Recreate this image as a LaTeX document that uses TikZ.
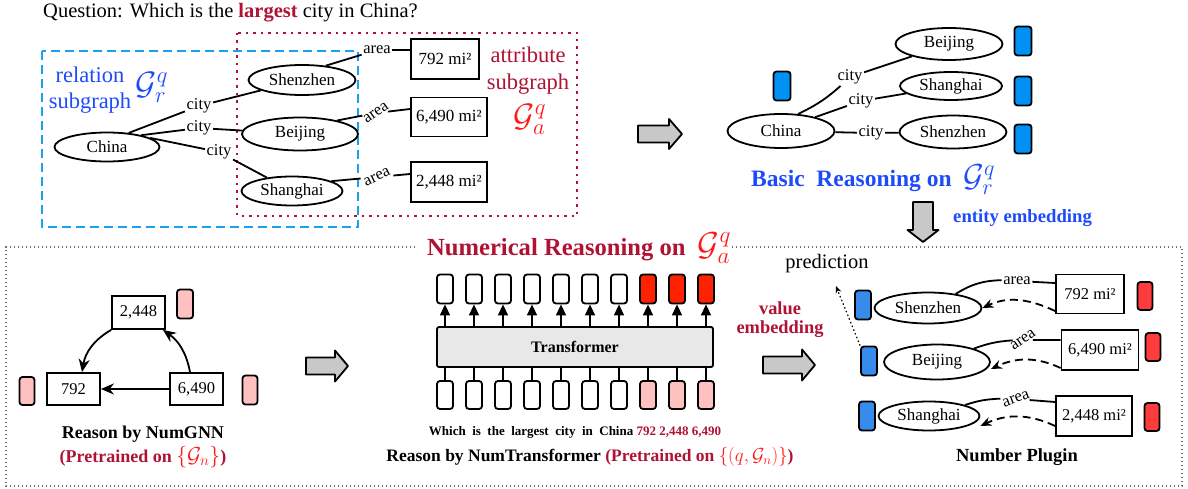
\RequirePackage{fix-cm}
\documentclass[tikz,border=0pt]{standalone}
\usepackage{fontspec}
\usepackage{graphicx}
\setmainfont{Liberation Serif}
\usetikzlibrary{arrows.meta,shapes.geometric}
\definecolor{dred}{RGB}{176,18,52}
\definecolor{mred}{RGB}{255,25,25}
\definecolor{tblue}{RGB}{30,75,250}
\definecolor{dashblue}{RGB}{25,160,240}
\definecolor{eblue}{RGB}{0,145,245}
\definecolor{pblue}{RGB}{55,140,235}
\definecolor{plred}{RGB}{255,60,60}
\definecolor{tred}{RGB}{255,34,0}
\definecolor{pink}{RGB}{255,192,192}
\definecolor{arrgray}{RGB}{200,200,200}
\definecolor{tgray}{RGB}{232,232,232}
\definecolor{framegray}{RGB}{110,110,110}
\newcommand\fsz[2]{\fontsize{#1}{#2}\selectfont}
\newcommand\garrowR[6]{\draw[garrow] ({#1-#3/2},{#2-#4/2}) -- ({#1+#3/2-#6},{#2-#4/2}) -- ({#1+#3/2-#6},{#2-#5/2}) -- ({#1+#3/2},#2) -- ({#1+#3/2-#6},{#2+#5/2}) -- ({#1+#3/2-#6},{#2+#4/2}) -- ({#1-#3/2},{#2+#4/2}) -- cycle;}
\newcommand\garrowD[6]{\draw[garrow] ({#1-#4/2},{#2+#3/2}) -- ({#1-#4/2},{#2-#3/2+#6}) -- ({#1-#5/2},{#2-#3/2+#6}) -- (#1,{#2-#3/2}) -- ({#1+#5/2},{#2-#3/2+#6}) -- ({#1+#4/2},{#2-#3/2+#6}) -- ({#1+#4/2},{#2+#3/2}) -- cycle;}
\begin{document}
\begin{tikzpicture}[x=1pt,y=1pt,
  ell/.style={ellipse, draw, line width=1.8pt, inner sep=0pt, font=\fsz{17pt}{20pt}},
  vbox/.style={rectangle, draw, line width=1.8pt, inner sep=0pt, font=\fsz{17pt}{20pt}},
  lbl/.style={inner sep=1.5pt, font=\fsz{16.5pt}{18pt}},
  edge/.style={line width=1.8pt},
  tok/.style={rectangle, draw, line width=1.8pt, rounded corners=3pt, minimum width=16pt, minimum height=29pt, inner sep=0pt},
  tokS/.style={rectangle, draw, line width=1.8pt, rounded corners=3pt, minimum width=15pt, minimum height=28pt, inner sep=0pt},
  garrow/.style={draw, line width=1.8pt, fill=arrgray, line join=round},
  garr/.style={line width=1.8pt, -{Stealth[length=13pt,width=11pt]}},
  tarr/.style={line width=1.5pt, -{Triangle[length=11pt,width=10pt]}},
  dasharr/.style={line width=1.8pt, dash pattern=on 8pt off 5pt, -{Stealth[length=11pt,width=9pt]}},
  bluedash/.style={draw=dashblue, line width=2.2pt, dash pattern=on 9pt off 5pt},
  reddot/.style={draw=dred, line width=2.4pt, dash pattern=on 2.5pt off 5pt},
  frame/.style={draw=framegray, line width=1.1pt, dash pattern=on 1.4pt off 2.6pt}
]
\useasboundingbox (0,0) rectangle (1188,488);

% ---------- top left ----------
\node[anchor=west, font=\fsz{20.5pt}{24pt}, inner sep=0pt] (question) at (43,475) {Question: Which is the {\color{dred}\bfseries largest} city in China?};
\draw[bluedash] (42,437) rectangle (358,261);
\draw[reddot] (237,455) rectangle (577,272);

\node[align=center, font=\fsz{22.5pt}{26pt}, text=tblue] (relt) at (90,398) {relation\\subgraph};
\node[font=\fsz{24pt}{26pt}, text=tblue] (grq) at (152,401) {\scalebox{1.35}{$\mathcal{G}_r^q$}};
\node[align=center, font=\fsz{22.5pt}{27pt}, text=dred] (attr) at (528,417) {attribute\\subgraph};
\node[font=\fsz{24pt}{26pt}, text=mred] (gaq) at (530,369) {\scalebox{1.35}{$\mathcal{G}_a^q$}};

\node[ell, minimum width=105pt, minimum height=29pt] (china) at (107,341) {China};
\node[ell, minimum width=107pt, minimum height=30pt] (shenzhen) at (302,408) {Shenzhen};
\node[ell, minimum width=116pt, minimum height=33pt] (beijing) at (300,354) {Beijing};
\node[ell, minimum width=101pt, minimum height=29pt] (shanghai) at (292,297) {Shanghai};
\node[lbl] (c1) at (199,382) {city};
\node[lbl] (c2) at (199,360) {city};
\node[lbl] (c3) at (219,336) {city};
\draw[edge] (china.33) -- (c1) -- (shenzhen);
\draw[edge] (china.19) -- (c2) -- (beijing);
\draw[edge] (china.12) -- (c3) -- (shanghai);

\node[vbox, minimum width=68pt, minimum height=40pt] (box1) at (445,429) {792 mi²};
\node[vbox, minimum width=76pt, minimum height=39pt] (box2) at (449,371) {6,490 mi²};
\node[vbox, minimum width=76pt, minimum height=40pt] (box3) at (449,306) {2,448 mi²};
\node[lbl] (a1) at (377,438) {area};
\node[lbl, rotate=35] (a2) at (376,375) {area};
\node[lbl, rotate=25] (a3) at (377,311) {area};
\draw[edge] (shenzhen.31) -- (a1);
\draw[edge] (a1.east) -- (a1.east -| box1.west);
\draw[edge] (beijing.20) -- (a2) -- ([yshift=8pt]box2.west);
\draw[edge] (shanghai.14) -- (a3) -- ([yshift=8pt]box3.west);

% ---------- top right ----------
\garrowR{660}{354}{44}{17}{30}{13}
\node[ell, minimum width=107pt, minimum height=34pt] (china2) at (781,357) {China};
\node[ell, minimum width=107pt, minimum height=32pt] (beijing2) at (949,444) {Beijing};
\node[ell, minimum width=102pt, minimum height=28pt] (shanghai2) at (951,402) {Shanghai};
\node[ell, minimum width=107pt, minimum height=33pt] (shenzhen2) at (953,356) {Shenzhen};
\node[lbl] (c4) at (850,411) {city};
\node[lbl] (c5) at (861,387) {city};
\node[lbl] (c6) at (871,355) {city};
\draw[edge] (china2.45) to[bend right=8] (c4);
\draw[edge] (c4) -- (beijing2);
\draw[edge] (china2.22) -- (c5) -- (shanghai2);
\draw[edge] (china2) -- (c6) -- (shenzhen2);
\node[tok, minimum width=17pt, fill=eblue] (e0) at (782,402) {};
\node[tok, minimum width=17pt, fill=eblue] (e1) at (1023,447) {};
\node[tok, minimum width=17pt, fill=eblue] (e2) at (1023,397) {};
\node[tok, minimum width=17pt, fill=eblue] (e3) at (1023,349) {};
\node[anchor=base west, inner sep=0pt, font=\bfseries\fsz{23.5pt}{26pt}, text=tblue] (basic) at (751,301) {Basic\ \ Reasoning on\ \ \scalebox{1.35}{$\mathcal{G}_r^q$}};
\garrowD{923}{266}{40}{20}{31}{12}
\node[anchor=west, inner sep=0pt, font=\bfseries\fsz{18.7pt}{20pt}, text=tblue] (entemb) at (953,270) {entity embedding};

% ---------- bottom frame ----------
\draw[frame] (415,241) -- (6,241) -- (6,2) -- (1182,2) -- (1182,241) -- (732,241);
\node[anchor=base west, inner sep=0pt, font=\bfseries\fsz{24.6pt}{28pt}, text=dred] (numtitle) at (427,233) {Numerical Reasoning on\ \ {\color{mred}\scalebox{1.35}{$\mathcal{G}_a^q$}}};

% ---------- NumGNN ----------
\node[vbox, minimum width=53pt, minimum height=33pt, font=\fsz{16.5pt}{18pt}] (n2448) at (138.5,175.5) {2,448};
\node[vbox, minimum width=53pt, minimum height=32pt, font=\fsz{16.5pt}{18pt}] (n792) at (73.5,99) {792};
\node[vbox, minimum width=53pt, minimum height=32pt, font=\fsz{16.5pt}{18pt}] (n6490) at (196.5,99) {6,490};
\node[tokS, minimum width=16pt, minimum height=29pt, fill=pink] (k1) at (185,184) {};
\node[tokS, fill=pink] (k2) at (27,97) {};
\node[tokS, minimum height=29pt, fill=pink] (k3) at (250,98) {};
\draw[garr] (n2448.south west) to[bend right=25] ([xshift=8.5pt]n792.north);
\draw[garr] ([xshift=-6.5pt]n6490.north) to[bend right=22] ([xshift=-3pt]n2448.south east);
\draw[garr] (n6490.west) -- (n792.east);
\node[font=\bfseries\fsz{18pt}{20pt}] (gnncap) at (143,54) {Reason by NumGNN};
\node[font=\bfseries\fsz{18pt}{20pt}, text=dred] (gnncap2) at (143,31) {(Pretrained on {\color{mred}\scalebox{1.2}{$\{\mathcal{G}_n\}$}})};
\garrowR{327}{122}{42}{17}{31}{13}

% ---------- Transformer ----------
\node[draw, line width=1.8pt, rounded corners=2pt, fill=tgray, minimum width=276pt, minimum height=40pt, inner sep=0pt, font=\bfseries\fsz{16pt}{18pt}] (trans) at (575,141) {Transformer};
\foreach \i/\c/\d in {0/white/white,1/white/white,2/white/white,3/white/white,4/white/white,5/white/white,6/white/white,7/tred/pink,8/tred/pink,9/tred/pink}{
  \node[tok, fill=\c] (t\i) at ({445+29*\i},199) {};
  \node[tok, minimum height=28pt, fill=\d] (u\i) at ({445+29*\i},93) {};
  \draw[tarr] (t\i.south |- trans.north) -- (t\i.south);
  \draw[line width=1.5pt] (u\i.north) -- (u\i.north |- trans.south);
}
\node[font=\bfseries\fsz{13pt}{15pt}] (qcap) at (575,56) {{\spaceskip=6.5pt Which is the largest city in China} {\color{dred}792 2,448 6,490}};
\node[font=\bfseries\fsz{17.5pt}{20pt}] (ntcap) at (590,31) {Reason by NumTransformer {\color{dred}(Pretrained on {\color{mred}\scalebox{1.08}{$\{(q,\mathcal{G}_n)\}$}})}};

\node[align=center, font=\bfseries\fsz{18.4pt}{19pt}, text=dred] (valemb) at (780,168) {value\\embedding};
\garrowR{789}{123}{52}{17}{31}{13}

% ---------- Number Plugin ----------
\node[font=\fsz{20.5pt}{22pt}] (pred) at (827,224) {prediction};
\node[tok, fill=pblue] (bA) at (863,183) {};
\node[tok, fill=pblue] (bB) at (869,127) {};
\node[tok, fill=pblue] (bC) at (867,72) {};
\node[ell, minimum width=107pt, minimum height=31pt] (s4) at (928,180) {Shenzhen};
\node[ell, minimum width=106pt, minimum height=35pt] (b4j) at (937,126) {Beijing};
\node[ell, minimum width=101pt, minimum height=29pt] (s6) at (929,72) {Shanghai};
\node[vbox, minimum width=68pt, minimum height=39pt, font=\fsz{16.5pt}{18pt}] (p1) at (1090,194) {792 mi²};
\node[vbox, minimum width=77pt, minimum height=40pt, font=\fsz{16.5pt}{18pt}] (p2) at (1100,138) {6,490 mi²};
\node[vbox, minimum width=76pt, minimum height=40pt, font=\fsz{16.5pt}{18pt}] (p3) at (1094,72) {2,448 mi²};
\node[tokS, fill=plred] (r1) at (1145,192) {};
\node[tokS, fill=plred] (r2) at (1153,141) {};
\node[tokS, fill=plred] (r3) at (1152,71) {};
\node[lbl] (a4) at (1017,207) {area};
\node[lbl, rotate=35] (a5) at (1023,148) {area};
\node[lbl, rotate=20] (a6) at (1016,89) {area};
\draw[edge] (s4.27) to[bend left=15] (a4);
\draw[edge] (a4) -- ([yshift=11pt]p1.west);
\draw[edge] (b4j.20) to[bend left=8] (a5);
\draw[edge] (a5) -- ([yshift=10pt]p2.west);
\draw[edge] (s6.17) to[bend left=8] (a6);
\draw[edge] (a6) -- ([yshift=14pt]p3.west);
\draw[dasharr] ([yshift=-17pt]p1.west) to[out=155,in=25] (s4.east);
\draw[dasharr] ([yshift=-18pt]p2.west) to[out=155,in=25] ([yshift=-7pt]b4j.east);
\draw[dasharr] ([yshift=-10pt]p3.west) to[out=155,in=25] ([yshift=-10pt]s6.east);
\draw[line width=1.2pt, dash pattern=on 1.5pt off 2.5pt, -{Stealth[length=7pt,width=6pt]}, shorten >=10pt] (bB.north west) -- (pred);
\node[font=\bfseries\fsz{18.5pt}{22pt}] (npcap) at (1017,31) {Number Plugin};
\end{tikzpicture}
\end{document}
